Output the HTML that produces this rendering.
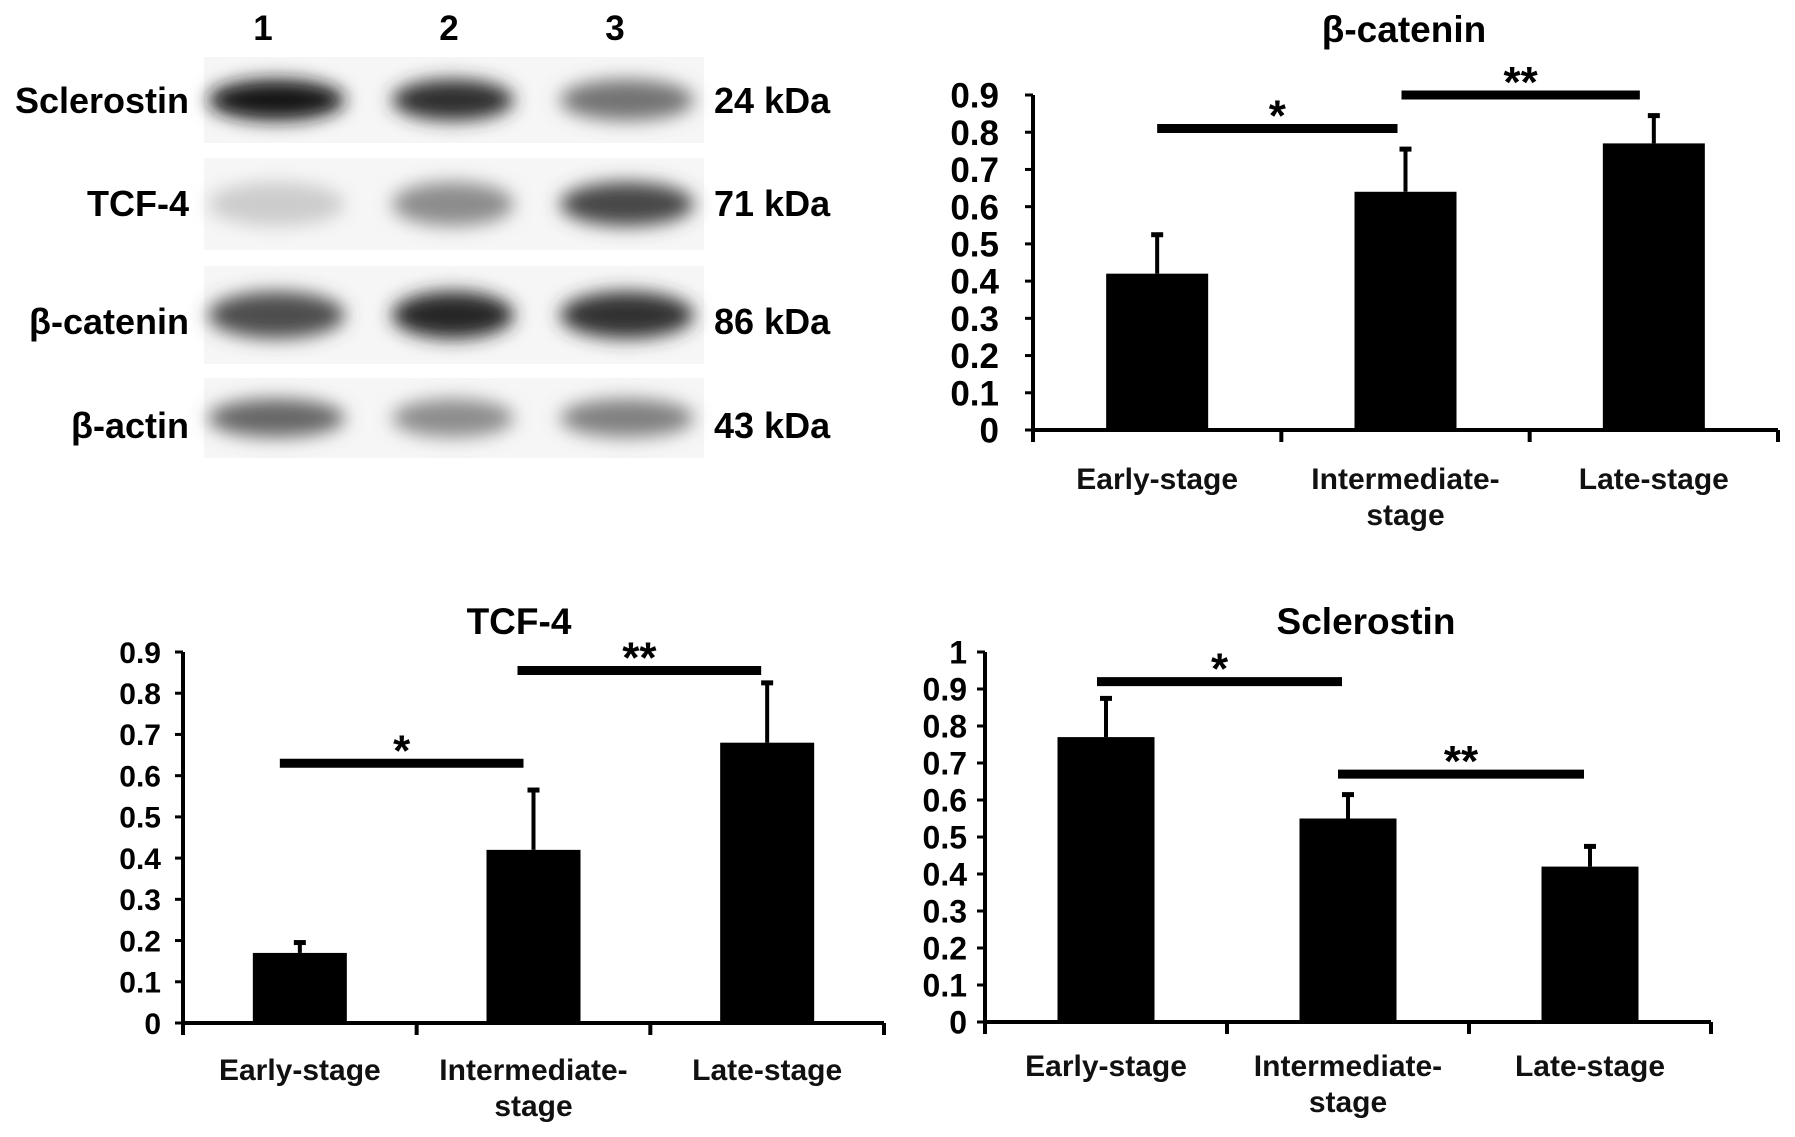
<!DOCTYPE html>
<html><head><meta charset="utf-8"><style>
html,body{margin:0;padding:0;background:#fff;}
svg{display:block;font-family:"Liberation Sans",Arial,sans-serif;}
</style></head><body>
<svg id="fig" width="1795" height="1137" viewBox="0 0 1795 1137" xmlns="http://www.w3.org/2000/svg">
<defs>
<filter id="blur6" x="-30%" y="-60%" width="160%" height="220%"><feGaussianBlur stdDeviation="9"/></filter>
</defs>
<g id="blot"></g>
<g id="charts"></g>
</svg>
<script>
// ---------- data ----------
const categories = ["Early-stage", "Intermediate-stage", "Late-stage"];
const betaCateninValues = [0.42, 0.64, 0.77];
const betaCateninErrors = [0.11, 0.12, 0.08];
const tcf4Values = [0.17, 0.42, 0.68];
const tcf4Errors = [0.03, 0.15, 0.15];
const sclerostinValues = [0.77, 0.55, 0.42];
const sclerostinErrors = [0.11, 0.07, 0.06];
const ticks09 = [0,0.1,0.2,0.3,0.4,0.5,0.6,0.7,0.8,0.9];
const ticks10 = [0,0.1,0.2,0.3,0.4,0.5,0.6,0.7,0.8,0.9,1];
const tickLabels09 = ["0","0.1","0.2","0.3","0.4","0.5","0.6","0.7","0.8","0.9"];
const tickLabels10 = ["0","0.1","0.2","0.3","0.4","0.5","0.6","0.7","0.8","0.9","1"];
const blotProteins = ["Sclerostin","TCF-4","β-catenin","β-actin"];
const blotSizes = ["24 kDa","71 kDa","86 kDa","43 kDa"];
const blotIntensity = [[0.9,0.82,0.55],[0.2,0.45,0.72],[0.7,0.85,0.8],[0.6,0.45,0.5]];

const NS="http://www.w3.org/2000/svg";
function mk(parent, tag, attrs, text){
  const e=document.createElementNS(NS,tag);
  for(const k in attrs) e.setAttribute(k,attrs[k]);
  if(text!==undefined) e.textContent=text;
  parent.appendChild(e); return e;
}

// ---------- western blot ----------
const blot=document.getElementById('blot');
const rowY=[[57,143],[158,250],[266,364],[378,458]];
const rowLabelY=[101,204,322,426];
const laneX=[[208,345],[392,514],[560,694]];
const laneNumX=[263,449,615];
["1","2","3"].forEach((n,i)=>{
  const t=mk(blot,'text',{x:laneNumX[i],y:40,'font-size':35,'font-weight':'bold','text-anchor':'middle'},n);
  
  
});
blotProteins.forEach((p,r)=>{
  const [y0,y1]=rowY[r];
  const strip=mk(blot,'rect',{x:204,y:y0,width:500,height:y1-y0,fill:'#f6f6f6'});
  
  
  const cy=(y0+y1)/2;
  laneX.forEach(([a,b],l)=>{
    const v=blotIntensity[r][l];
    const g=Math.round(255*(1-v));
    const el=mk(blot,'ellipse',{cx:(a+b)/2,cy:cy,rx:(b-a)/2,ry:(y1-y0)*0.24,fill:`rgb(${g},${g},${g})`,filter:'url(#blur6)'});
    
    
  });
  const lt=mk(blot,'text',{x:189,y:rowLabelY[r]+12,'font-size':36,'font-weight':'bold','text-anchor':'end'},p);
  
  
  const kt=mk(blot,'text',{x:714,y:rowLabelY[r]+12,'font-size':36,'font-weight':'bold'},blotSizes[r]);
  
  
});

// ---------- bar charts ----------
function chart(cfg){
  const g=mk(document.getElementById('charts'),'g',{});
  
  
  const yScale=v=>cfg.y0-(v/cfg.vmax)*(cfg.y0-cfg.ytop);
  const cw=(cfg.x1-cfg.x0)/categories.length;
  const xc=i=>cfg.x0+cw*(i+0.5);
  const title=mk(g,'text',{x:cfg.titleX,y:cfg.titleY,'font-size':37,'font-weight':'bold','text-anchor':'middle'},cfg.title);
  
  
  const ya=mk(g,'line',{x1:cfg.x0,y1:cfg.ytop,x2:cfg.x0,y2:cfg.y0+10,stroke:'#000','stroke-width':4});
  
  
  cfg.ticks.forEach((t,i)=>{
    const y=yScale(t);
    mk(g,'line',{x1:cfg.x0-8,y1:y,x2:cfg.x0,y2:y,stroke:'#000','stroke-width':3});
    const lab=mk(g,'text',{x:cfg.x0-cfg.tickGap,y:y+cfg.tickFont*0.36,'font-size':cfg.tickFont,'font-weight':'bold','text-anchor':'end'},cfg.tickLabels[i]);
    
    
  });
  cfg.values.forEach((v,i)=>{
    const cx=xc(i);
    const bar=mk(g,'rect',{x:cx-cfg.bw/2,y:yScale(v),width:cfg.bw,height:cfg.y0-yScale(v),fill:'#000'});
    
    
    const et=yScale(v+cfg.errors[i]);
    const eb=mk(g,'line',{x1:cx,y1:yScale(v),x2:cx,y2:et,stroke:'#000','stroke-width':4});
    
    
    mk(g,'line',{x1:cx-6,y1:et+2,x2:cx+6,y2:et+2,stroke:'#000','stroke-width':5});
    const words=categories[i]==="Intermediate-stage"?["Intermediate-","stage"]:[categories[i]];
    words.forEach((w,k)=>{
      const t=mk(g,'text',{x:cx,y:cfg.catY+k*36,'font-size':30,'text-anchor':'middle','font-weight':'bold','fill':'#111'},w);
      
      
    });
  });
  const xa=mk(g,'line',{x1:cfg.x0,y1:cfg.y0,x2:cfg.x1,y2:cfg.y0,stroke:'#000','stroke-width':4});
  
  
  for(let i=0;i<=categories.length;i++){
    mk(g,'line',{x1:cfg.x0+cw*i,y1:cfg.y0,x2:cfg.x0+cw*i,y2:cfg.y0+12,stroke:'#000','stroke-width':4});
  }
  cfg.sig.forEach(s=>{
    const y=yScale(s.v);
    const ln=mk(g,'line',{x1:xc(s.a)-s.pad,y1:y,x2:xc(s.b)-s.pad2,y2:y,stroke:'#000','stroke-width':9});
    
    
    const st=mk(g,'text',{x:(xc(s.a)-s.pad+xc(s.b)-s.pad2)/2,y:y+2,'font-size':44,'font-weight':'bold','text-anchor':'middle'},s.label);
    
    
  });
}

chart({name:'beta-catenin-chart',title:'β-catenin',titleX:1404,titleY:42,x0:1033,x1:1778,y0:430,ytop:95,vmax:0.9,
  ticks:ticks09,tickLabels:tickLabels09,tickFont:35,tickGap:34,values:betaCateninValues,errors:betaCateninErrors,bw:102,catY:489,
  sig:[{a:0,b:1,v:0.81,label:'*',pad:0,pad2:8},{a:1,b:2,v:0.9,label:'**',pad:4,pad2:14}]});
chart({name:'tcf4-chart',title:'TCF-4',titleX:519,titleY:634,x0:183,x1:884,y0:1023,ytop:652,vmax:0.9,
  ticks:ticks09,tickLabels:tickLabels09,tickFont:30,tickGap:22,values:tcf4Values,errors:tcf4Errors,bw:94,catY:1080,
  sig:[{a:0,b:1,v:0.63,label:'*',pad:20,pad2:10},{a:1,b:2,v:0.855,label:'**',pad:16,pad2:6}]});
chart({name:'sclerostin-chart',title:'Sclerostin',titleX:1366,titleY:634,x0:985,x1:1711,y0:1022,ytop:652,vmax:1,
  ticks:ticks10,tickLabels:tickLabels10,tickFont:32,tickGap:18,values:sclerostinValues,errors:sclerostinErrors,bw:97,catY:1076,
  sig:[{a:0,b:1,v:0.92,label:'*',pad:9,pad2:6},{a:1,b:2,v:0.67,label:'**',pad:10,pad2:6}]});
</script>
</body></html>
